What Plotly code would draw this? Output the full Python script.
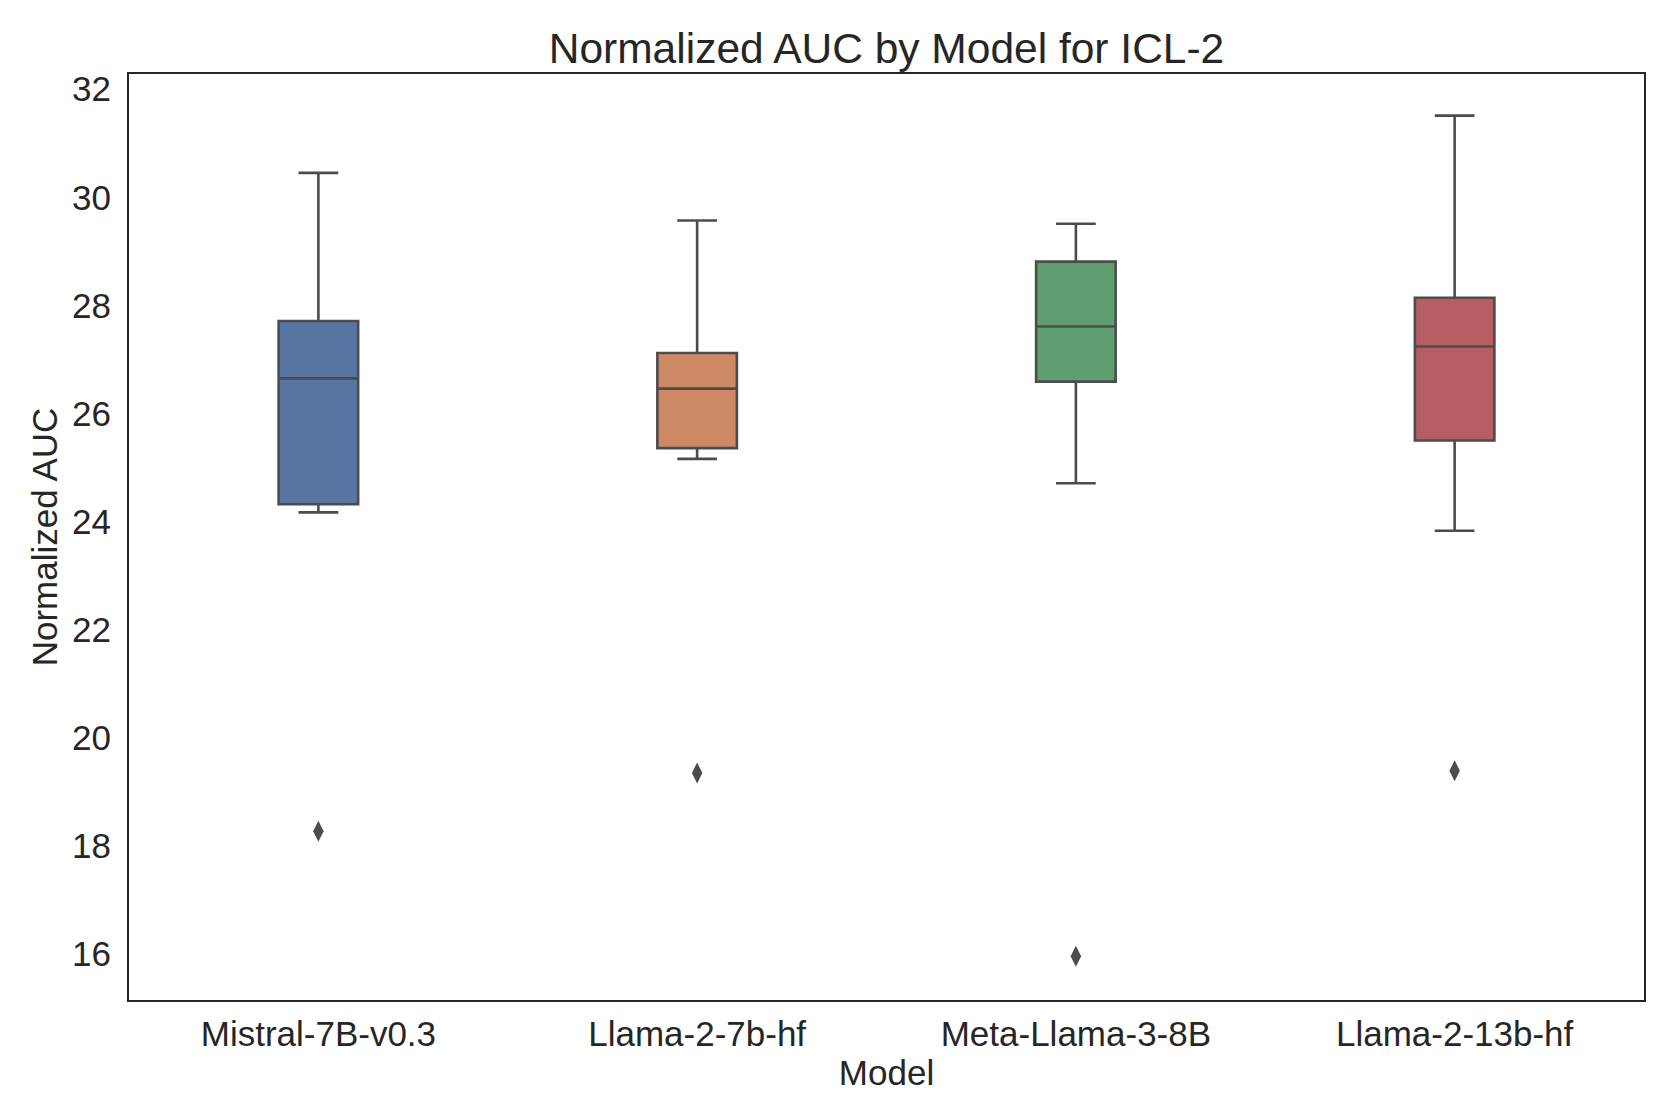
import plotly.graph_objects as go

models = ["Mistral-7B-v0.3", "Llama-2-7b-hf", "Meta-Llama-3-8B", "Llama-2-13b-hf"]
lower_whisker = [24.17, 25.16, 24.71, 23.83]
q1_vals = [24.32, 25.36, 26.59, 25.50]
medians = [26.65, 26.46, 27.61, 27.24]
q3_vals = [27.71, 27.12, 28.81, 28.14]
upper_whisker = [30.45, 29.57, 29.51, 31.51]
outliers = [18.27, 19.35, 15.96, 19.39]
colors = ["#5975A4", "#CC8963", "#5F9E6E", "#B55D60"]

FONT = "Liberation Sans, Arial, sans-serif"
LINE = "#4C4C4C"
TXT = "#262626"

fig = go.Figure()
for i, m in enumerate(models):
    fig.add_trace(go.Box(
        x=[m],
        q1=[q1_vals[i]], median=[medians[i]], q3=[q3_vals[i]],
        lowerfence=[lower_whisker[i]], upperfence=[upper_whisker[i]],
        fillcolor=colors[i],
        line=dict(color=LINE, width=2.6),
        whiskerwidth=0.5,
        boxpoints=False,
        showlegend=False,
        hoverinfo="skip",
    ))

fig.add_trace(go.Scatter(
    x=models, y=outliers, mode="markers",
    marker=dict(symbol="diamond-tall", size=15, color=LINE, line=dict(width=0)),
    showlegend=False,
))

fig.update_layout(
    width=1661, height=1107,
    margin=dict(l=121, r=25, t=66, b=115),
    paper_bgcolor="white", plot_bgcolor="white",
    boxmode="overlay", boxgap=0.7,
    font=dict(family=FONT, size=35, color=TXT),
    title=dict(text="Normalized AUC by Model for ICL-2", x=0.5, xref="paper", xanchor="center",
               y=1 - 40 / 1107, yanchor="middle",
               font=dict(family=FONT, size=42.5, color=TXT)),
)
fig.update_xaxes(
    type="category", categoryorder="array", categoryarray=models,
    range=[-0.5, 3.5],
    showline=True, linecolor=TXT, linewidth=2, mirror=True,
    showgrid=False, zeroline=False, ticks="",
    ticklabelstandoff=2,
    tickfont=dict(family=FONT, size=35, color=TXT),
    title=dict(text="Model", standoff=8, font=dict(family=FONT, size=35, color=TXT)),
)
fig.update_yaxes(
    range=[15.15, 32.28],
    tickvals=[16, 18, 20, 22, 24, 26, 28, 30, 32],
    showline=True, linecolor=TXT, linewidth=2, mirror=True,
    showgrid=False, zeroline=False, ticks="",
    ticklabelstandoff=9,
    tickfont=dict(family=FONT, size=35, color=TXT),
    title=dict(text="Normalized AUC", standoff=4, font=dict(family=FONT, size=35, color=TXT)),
)

fig.write_html("out.html")
